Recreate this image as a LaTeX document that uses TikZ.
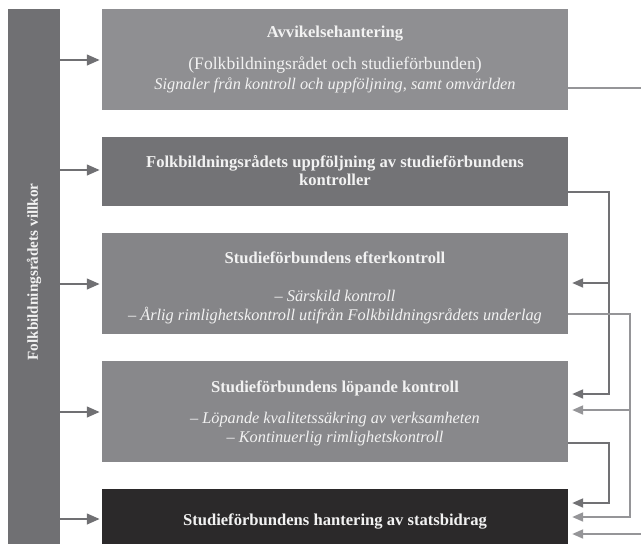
\documentclass[tikz,border=0pt]{standalone}
\usepackage{fontspec}
\setmainfont{Liberation Serif}
\usetikzlibrary{arrows.meta}
\definecolor{barc}{HTML}{707073}
\definecolor{boxa}{HTML}{8F8F92}
\definecolor{boxb}{HTML}{737376}
\definecolor{boxc}{HTML}{858588}
\definecolor{boxd}{HTML}{88888B}
\definecolor{boxe}{HTML}{2B292A}
\definecolor{txt}{HTML}{F2F2F2}
\definecolor{lnd}{HTML}{717174}
\definecolor{lnl}{HTML}{959598}
\tikzset{
  panel/.style={draw=none, inner sep=0pt, minimum width=466pt, text=txt, align=center},
  tbf/.style={font=\bfseries\fontsize{16.6}{18}\selectfont},
  trm/.style={font=\fontsize{17.6}{20}\selectfont},
  tit/.style={font=\itshape\fontsize{16.3}{19}\selectfont},
  inarrow/.style={draw=barc, line width=2.7pt, -{Triangle[length=13pt,width=10.5pt]}},
  fb/.style={line width=1.9pt, -{Triangle[length=11pt,width=9pt]}},
  fbline/.style={line width=1.9pt},
}
\begin{document}
\begin{tikzpicture}[x=1pt,y=-1pt]
\useasboundingbox (0,0) rectangle (641,544);
% left bar
\node[fill=barc, minimum width=52pt, minimum height=535pt, inner sep=0pt] (bar) at (34,276.5) {};
\node[rotate=90, text=txt, font=\bfseries\fontsize{15.2}{17}\selectfont] (bartxt) at (34,272) {Folkbildningsrådets villkor};
% boxes
\node[panel, fill=boxa, minimum height=101pt] (b1) at (335,59.5) {};
\node[panel, fill=boxb, minimum height=69pt] (b2) at (335,171.5) {};
\node[panel, fill=boxc, minimum height=101pt] (b3) at (335,283.5) {};
\node[panel, fill=boxd, minimum height=101pt] (b4) at (335,411.5) {};
\node[panel, fill=boxe, minimum height=55pt] (b5) at (335,516.5) {};
% texts
\node[panel, tbf, anchor=base] (t1a) at (335,37) {Avvikelsehantering};
\node[panel, trm, anchor=base] (t1b) at (335,69) {(Folkbildningsrådet och studieförbunden)};
\node[panel, tit, anchor=base] (t1c) at (335,89) {Signaler från kontroll och uppföljning, samt omvärlden};
\node[panel, tbf, anchor=base] (t2a) at (335,167) {Folkbildningsrådets uppföljning av studieförbundens};
\node[panel, tbf, anchor=base] (t2b) at (335,185) {kontroller};
\node[panel, tbf, anchor=base] (t3a) at (335,263) {Studieförbundens efterkontroll};
\node[panel, tit, anchor=base] (t3b) at (335,301) {– Särskild kontroll};
\node[panel, tit, anchor=base] (t3c) at (335,320) {– Årlig rimlighetskontroll utifrån Folkbildningsrådets underlag};
\node[panel, tbf, anchor=base] (t4a) at (335,392) {Studieförbundens löpande kontroll};
\node[panel, tit, anchor=base] (t4b) at (335,423) {– Löpande kvalitetssäkring av verksamheten};
\node[panel, tit, anchor=base] (t4c) at (335,442) {– Kontinuerlig rimlighetskontroll};
\node[panel, tbf, anchor=base] (t5) at (335,525) {Studieförbundens hantering av statsbidrag};
% arrows from bar
\foreach \y/\b in {60/b1,170/b2,284/b3,412/b4,519/b5}{
  \draw[inarrow] (bar.east |- 0,\y) -- ([xshift=-2pt]\b.west |- 0,\y);
}
% right connectors
\coordinate (v1) at (609,0);
\coordinate (v2) at (630,0);
\coordinate (edge) at (641,0);
\draw[fbline, draw=lnl] (b1.east |- 0,88) -- (edge |- 0,88);
\draw[fb, draw=lnd] (b2.east |- 0,192) -| (v1 |- 0,394) -- ([xshift=4pt]b4.east |- 0,394);
\draw[fb, draw=lnd] (v1 |- 0,283) -- ([xshift=4pt]b3.east |- 0,283);
\draw[fb, draw=lnl] (b3.east |- 0,314) -| (v2 |- 0,517) -- ([xshift=4pt]b5.east |- 0,517);
\draw[fb, draw=lnl] (v2 |- 0,410) -- ([xshift=4pt]b4.east |- 0,410);
\draw[fb, draw=lnd] (b4.east |- 0,443) -| (v1 |- 0,503) -- ([xshift=4pt]b5.east |- 0,503);
\draw[fb, draw=lnl] (edge |- 0,534) -- ([xshift=4pt]b5.east |- 0,534);
\end{tikzpicture}
\end{document}
